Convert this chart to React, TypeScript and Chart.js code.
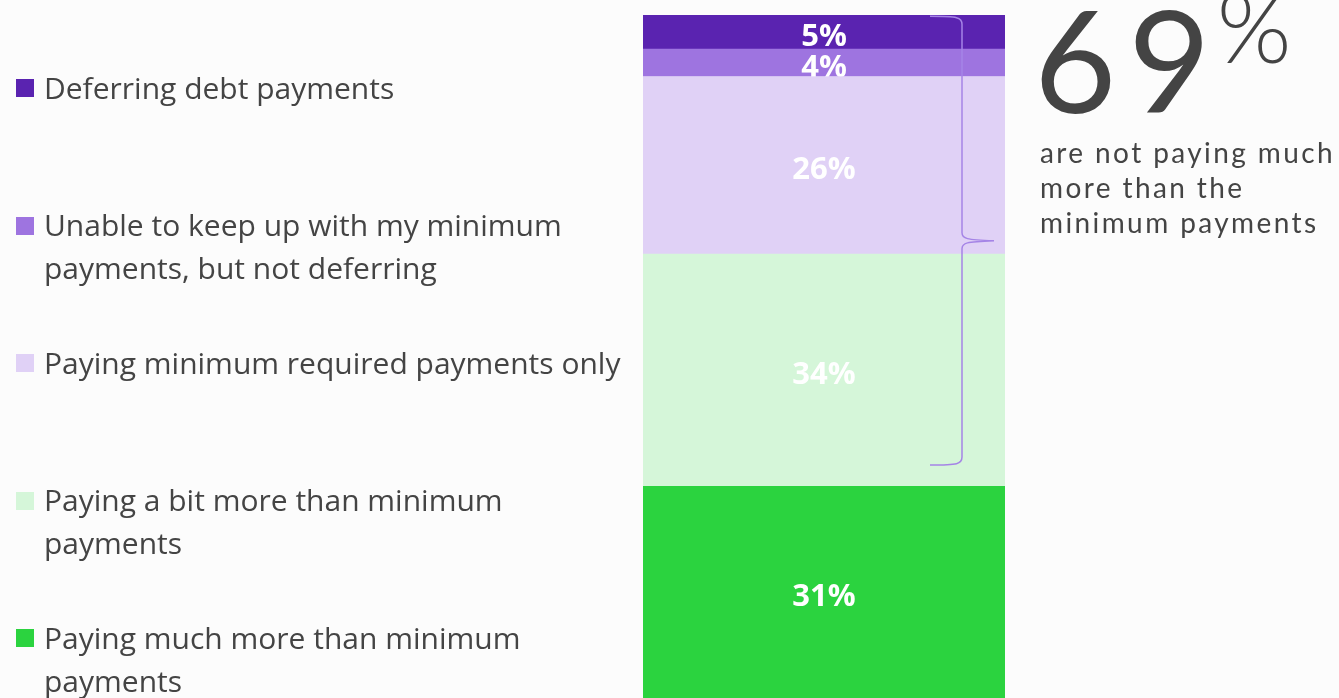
import React, { useEffect, useRef } from "react";
import { Chart, registerables } from "chart.js";

Chart.register(...registerables);

const categories = [""];
const seriesLabels = [
  "Paying much more than minimum payments",
  "Paying a bit more than minimum payments",
  "Paying minimum required payments only",
  "Unable to keep up with my minimum payments, but not deferring",
  "Deferring debt payments",
];
const seriesValues = [31, 34, 26, 4, 5];
const seriesColors = ["#2bd33f", "#d5f6d9", "#e0d1f6", "#9e74e0", "#5a23b0"];
const valueLabels = ["31%", "34%", "26%", "4%", "5%"];

const legendItems = [
  { lines: ["Deferring debt payments"], color: "#5a23b0" },
  { lines: ["Unable to keep up with my minimum", "payments, but not deferring"], color: "#9e74e0" },
  { lines: ["Paying minimum required payments only"], color: "#e0d1f6" },
  { lines: ["Paying a bit more than minimum", "payments"], color: "#d5f6d9" },
  { lines: ["Paying much more than minimum", "payments"], color: "#2bd33f" },
];

const braceTopValue = 99.8;
const braceBottomValue = 34.1;
const highlightNumber = "69";
const highlightText = ["are not paying much", "more than the", "minimum payments"];

const labelsPlugin = {
  id: "segLabels",
  afterDatasetsDraw(chart: any) {
    const ctx = chart.ctx;
    chart.data.datasets.forEach((ds: any, i: number) => {
      const meta = chart.getDatasetMeta(i);
      meta.data.forEach((bar: any) => {
        const top = Math.min(bar.y, bar.base);
        const bottom = Math.max(bar.y, bar.base);
        const left = bar.x - bar.width / 2;
        ctx.save();
        ctx.beginPath();
        ctx.rect(left, top, bar.width, bottom - top);
        ctx.clip();
        ctx.fillStyle = "#ffffff";
        ctx.font = "bold 31px 'Open Sans'";
        ctx.textAlign = "center";
        ctx.textBaseline = "middle";
        ctx.fillText(valueLabels[i], bar.x, (top + bottom) / 2 + 5);
        ctx.restore();
      });
    });
  },
  afterDraw(chart: any) {
    const ctx = chart.ctx;
    const y = chart.scales.y;
    const area = chart.chartArea;
    const t = y.getPixelForValue(braceTopValue);
    const b = y.getPixelForValue(braceBottomValue);
    const m = (t + b) / 2;
    const xl = area.left + 287;
    const xv = area.left + 319;
    const xt = area.left + 351;
    ctx.save();
    ctx.strokeStyle = "#a584e6";
    ctx.lineWidth = 1.5;
    ctx.beginPath();
    ctx.moveTo(xl, t);
    ctx.bezierCurveTo(xv - 4, t, xv, t + 1, xv, t + 8);
    ctx.lineTo(xv, m - 8);
    ctx.bezierCurveTo(xv, m - 2, xv + 4, m - 1, xt, m);
    ctx.bezierCurveTo(xv + 4, m + 1, xv, m + 2, xv, m + 8);
    ctx.lineTo(xv, b - 8);
    ctx.bezierCurveTo(xv, b - 1, xv - 4, b, xl, b);
    ctx.stroke();
    ctx.restore();
  },
};

export default function App() {
  const ref = useRef<HTMLCanvasElement>(null);
  useEffect(() => {
    if (!ref.current) return;
    const chart = new Chart(ref.current, {
      type: "bar",
      data: {
        labels: categories,
        datasets: seriesValues.map((v, i) => ({
          label: seriesLabels[i],
          data: [v],
          backgroundColor: seriesColors[i],
          borderWidth: 0,
          barPercentage: 1,
          categoryPercentage: 1,
        })),
      },
      options: {
        animation: false,
        responsive: false,
        maintainAspectRatio: false,
        layout: { padding: { left: 643, right: 334, top: 15, bottom: 0 } },
        plugins: { legend: { display: false }, tooltip: { enabled: false } },
        scales: {
          x: { stacked: true, display: false },
          y: { stacked: true, display: false, min: 0, max: 100 },
        },
      },
      plugins: [labelsPlugin],
    });
    return () => chart.destroy();
  }, []);

  const legendFont = "'Open Sans', sans-serif";
  return (
    <div style={{ position: "fixed", left: 0, top: 0, width: 1339, height: 698, background: "#fcfcfc", overflow: "hidden" }}>
      <canvas ref={ref} width={1339} height={698} style={{ position: "absolute", left: 0, top: 0, width: 1339, height: 698 }} />
      {legendItems.map((it, i) => {
        const cy = 88 + i * 137.5;
        return (
          <div key={i}>
            <div style={{ position: "absolute", left: 16, top: cy - 9, width: 18, height: 18, background: it.color }} />
            <div style={{ position: "absolute", left: 44, top: cy - 22.5, fontFamily: legendFont, fontSize: 30, lineHeight: "43px", color: "#444", whiteSpace: "nowrap" }}>
              {it.lines.map((l, j) => (<div key={j}>{l}</div>))}
            </div>
          </div>
        );
      })}
      <div style={{ position: "absolute", left: 1034, top: -22, fontFamily: "Lato, sans-serif", fontWeight: 400, fontSize: 142, lineHeight: "160px", letterSpacing: 12, color: "#444", whiteSpace: "nowrap" }}>
        {highlightNumber}
        <span style={{ fontSize: 96, fontWeight: 300, letterSpacing: 0, position: "relative", top: -50, marginLeft: -6 }}>%</span>
      </div>
      <div style={{ position: "absolute", left: 1040, top: 135, fontFamily: "Lato, sans-serif", fontSize: 28, lineHeight: "35px", letterSpacing: 2.4, color: "#444", whiteSpace: "nowrap" }}>
        {highlightText.map((l, j) => (<div key={j}>{l}</div>))}
      </div>
    </div>
  );
}
